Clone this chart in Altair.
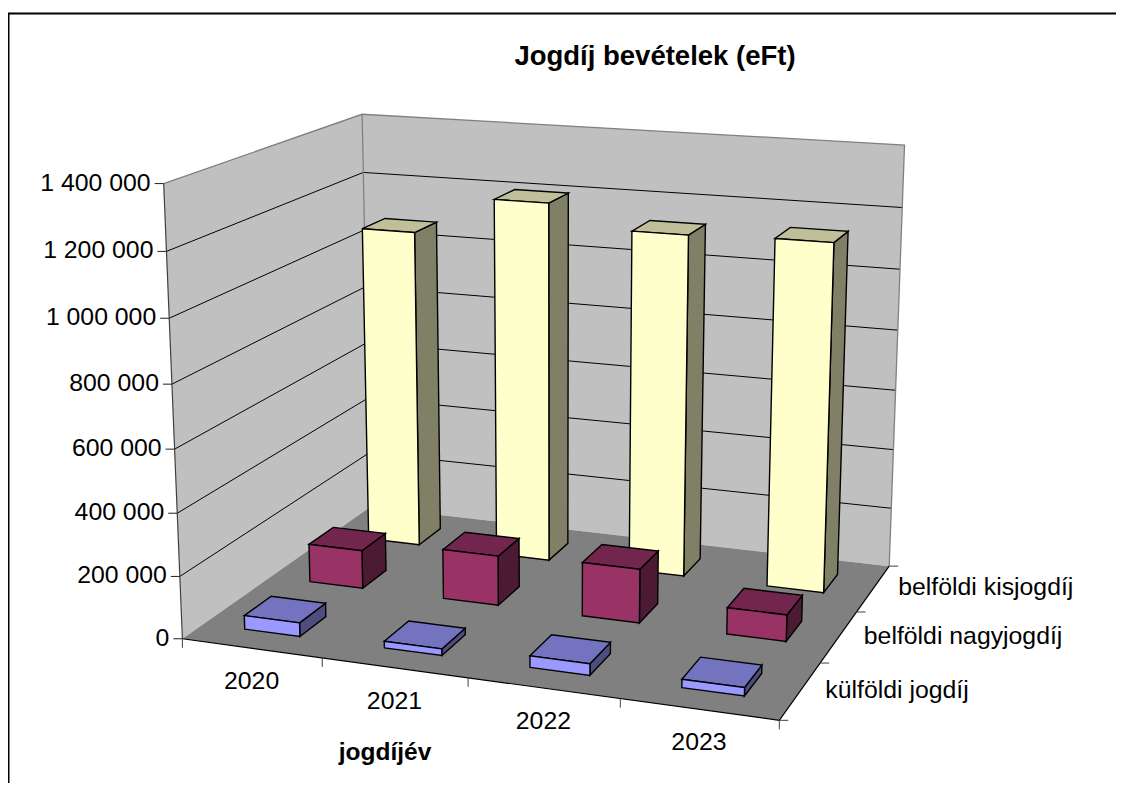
import numpy as np
import altair as alt

# ---- chart values ----
years = ["2020", "2021", "2022", "2023"]
series = ["külföldi jogdíj", "belföldi nagyjogdíj", "belföldi kisjogdíj"]
kulfoldi = [44000, 21000, 36000, 26000]
nagyjogdij = [127000, 163000, 175000, 85000]
kisjogdij = [1075000, 1203000, 1131000, 1140000]
z_ticks = [0, 200000, 400000, 600000, 800000, 1000000, 1200000, 1400000]
z_labels = ["0", "200 000", "400 000", "600 000", "800 000", "1 000 000", "1 200 000", "1 400 000"]
title_text = "Jogdíj bevételek (eFt)"
x_title = "jogdíjév"

# styles: (front, top, side)
bar_colors = [("#9999FF", "#7373BF", "#4D4D80"),
              ("#993366", "#73264D", "#4D1A33"),
              ("#FFFFCC", "#BFBF99", "#808066")]
WALL, FLOOR, EDGE = "#C0C0C0", "#808080", "#808080"
FONT = "Liberation Sans"
W, H = 1108, 775
OX, OY = 8, 8

# ---- 3D view calibration: (category, depth, value in millions) -> page pixel ----
calib = [
    (0, 0, 0, 182.7, 638.7), (0, 0, 1.4, 163.3, 183.3), (0, 3, 1.4, 362.3, 113.7),
    (4, 3, 1.4, 904.7, 145.0), (4, 3, 0, 888.6, 565.0), (4, 0, 0, 778.6, 720.0),
    (1, 0, 0, 322.0, 657.7), (2, 0, 0, 468.3, 678.0), (3, 0, 0, 619.6, 699.0),
    (0, 0, .2, 180.0, 577.0), (0, 0, .4, 177.3, 513.0), (0, 0, 1.0, 170.0, 317.7), (0, 0, 1.2, 166.7, 251.3),
    (4, 1, 0, 821.7, 662.7), (4, 2, 0, 857.0, 612.3), (4, 3, 1.2, 901.8, 208.3), (4, 3, 1.0, 900.5, 269.0),
    (0, 3, 1.2, 362.5, 173.3),
    (.7, 2.3, 0, 419.3, 544.3), (.7, 2.7, 0, 440.7, 529.0), (.7, 1.3, 0, 362.3, 588.3),
    (.3, 1.3, 0, 309.7, 580.7), (.3, .3, 0, 245.0, 630.0), (.7, .3, 0, 299.7, 636.7),
    (3.7, 2.3, 0, 824.0, 593.0), (3.7, 1.3, 0, 786.0, 641.7), (3.7, .3, 0, 743.7, 696.0),
]
rows = []
for X, Y, Z, u, v in calib:
    u, v = u / 1000, v / 1000
    rows.append([X, Y, Z, 1, 0, 0, 0, 0, -u * X, -u * Y, -u * Z, -u])
    rows.append([0, 0, 0, 0, X, Y, Z, 1, -v * X, -v * Y, -v * Z, -v])
P = np.linalg.svd(np.array(rows))[2][-1].reshape(3, 4)


def proj(x, y, z):
    """World point -> pixel inside the svg."""
    h = P @ np.array([x, y, z / 1e6, 1.0])
    return [float(h[0] / h[2] * 1000 - OX), float(h[1] / h[2] * 1000 - OY)]


features = []


def poly(pts, fill, stroke=None, sw=0):
    ring = [proj(*p) for p in pts]
    ring.append(ring[0])
    features.append({"type": "Feature", "geometry": {"type": "Polygon", "coordinates": [ring]},
                     "properties": {"fill": fill, "stroke": stroke or fill, "sw": sw}})


def line(pts, stroke, sw=1.0):
    features.append({"type": "Feature", "geometry": {"type": "LineString", "coordinates": pts},
                     "properties": {"fill": "none", "stroke": stroke, "sw": sw}})


top = z_ticks[-1]
poly([(0, 0, 0), (0, 3, 0), (0, 3, top), (0, 0, top)], WALL)
poly([(0, 3, 0), (4, 3, 0), (4, 3, top), (0, 3, top)], WALL)
poly([(0, 0, 0), (4, 0, 0), (4, 3, 0), (0, 3, 0)], FLOOR)
for z in z_ticks[1:-1]:
    line([proj(0, 0, z), proj(0, 3, z), proj(4, 3, z)], "#000000", 1.0)
line([proj(0, 0, 0), proj(0, 0, top)], "#404040", 1.2)
line([proj(0, 0, top), proj(0, 3, top), proj(4, 3, top), proj(4, 3, 0)], EDGE, 1.3)
line([proj(0, 3, 0), proj(0, 3, top)], EDGE, 1.3)
line([proj(0, 0, 0), proj(4, 0, 0), proj(4, 3, 0)], "#000000", 1.2)
# ticks
for z in z_ticks:
    a = proj(0, 0, z)
    line([[a[0] - 9, a[1]], a], "#202020", 1.0)
for i in range(5):
    a = proj(i, 0, 0)
    line([a, [a[0], a[1] + 9]], "#404040", 1.0)
for j in range(4):
    a = proj(4, j, 0)
    line([a, [a[0] + 9, a[1]]], "#404040", 1.0)

# bars, back row first
all_values = [kulfoldi, nagyjogdij, kisjogdij]
for j in (2, 1, 0):
    front, ctop, side = bar_colors[j]
    for i, v in enumerate(all_values[j]):
        x0, x1, y0, y1 = i + .3, i + .7, j + .3, j + .7
        poly([(x1, y0, 0), (x1, y1, 0), (x1, y1, v), (x1, y0, v)], side, "#000000", 1.4)
        poly([(x0, y0, v), (x1, y0, v), (x1, y1, v), (x0, y1, v)], ctop, "#000000", 1.4)
        poly([(x0, y0, 0), (x1, y0, 0), (x1, y0, v), (x0, y0, v)], front, "#000000", 1.4)

# chart area frame
line([[0.5, H + 5], [0.5, 5.5], [W + 5, 5.5]], "#000000", 2.0)

shapes = alt.Chart(alt.Data(values=features)).mark_geoshape(strokeJoin="miter").encode(
    fill=alt.Color("properties.fill:N", scale=None),
    stroke=alt.Color("properties.stroke:N", scale=None),
    strokeWidth=alt.StrokeWidth("properties.sw:Q", scale=None),
).project(type="identity", scale=1, translate=[0, 0])

z_rows = []
for z, t in zip(z_ticks, z_labels):
    a = proj(0, 0, z)
    z_rows.append({"x": a[0] - 13, "y": a[1], "t": t})
x_rows = []
for i, t in enumerate(years):
    a = proj(i + .5, 0, 0)
    x_rows.append({"x": a[0], "y": a[1] + 34, "t": t})
s_rows = []
for j, t in enumerate(series):
    a = proj(4, j + .5, 0)
    s_rows.append({"x": a[0] + 25, "y": a[1], "t": t})


def texts(rows, align, bold=False, size=24.8):
    return alt.Chart(alt.Data(values=rows)).mark_text(
        font=FONT, fontSize=size, align=align, baseline="middle", color="#000000",
        fontWeight="bold" if bold else "normal",
    ).encode(x=alt.X("x:Q", scale=None), y=alt.Y("y:Q", scale=None), text="t:N")


layers = [
    shapes,
    texts(z_rows, "right"),
    texts(x_rows, "center"),
    texts(s_rows, "left"),
    texts([{"x": 655 - OX, "y": 57 - OY, "t": title_text}], "center", True, 27.5),
    texts([{"x": 385 - OX, "y": 753 - OY, "t": x_title}], "center", True, 24.5),
]
chart = alt.layer(*layers).properties(
    width=W, height=H, padding=0, background="#FFFFFF",
    autosize=alt.AutoSizeParams(type="none"),
).configure_view(stroke=None)
chart.save("out.html", embed_options={"renderer": "svg", "actions": False})
